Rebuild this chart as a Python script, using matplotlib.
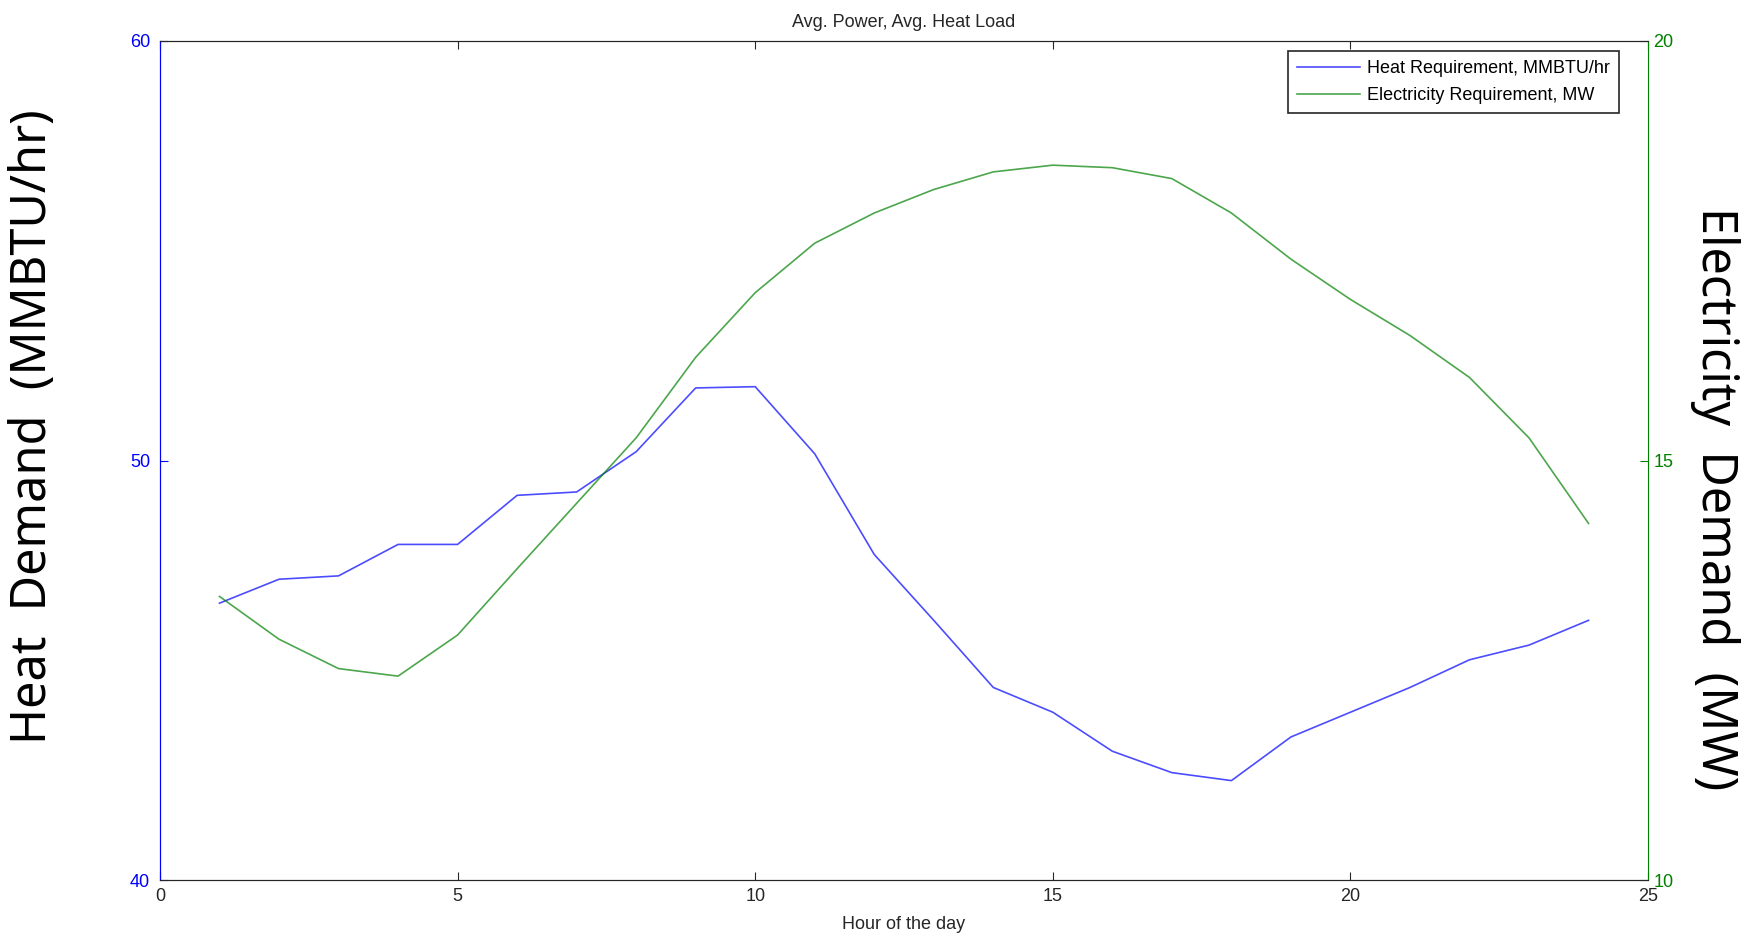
import matplotlib
matplotlib.use("Agg")
import matplotlib.pyplot as plt

hours = list(range(1, 25))
heat = [46.6, 47.17, 47.25, 48.0, 48.0, 49.17, 49.25, 50.21, 51.73, 51.76,
        50.16, 47.76, 46.19, 44.59, 44.0, 43.07, 42.56, 42.37, 43.41, 44.0,
        44.59, 45.25, 45.6, 46.19]
elec = [13.38, 12.87, 12.52, 12.43, 12.92, 13.71, 14.49, 15.27, 16.23, 17.0,
        17.59, 17.95, 18.23, 18.44, 18.52, 18.49, 18.36, 17.95, 17.4, 16.92,
        16.49, 15.99, 15.27, 14.25]

blue = "#0000ff"
green = "#008000"
small = ["Liberation Sans", "DejaVu Sans"]
big = ["Noto Sans", "DejaVu Sans"]

fig = plt.figure(figsize=(17.54, 9.36), dpi=100)
ax = fig.add_axes([0.0912, 0.0598, 0.8484, 0.8964])
ax2 = ax.twinx()

l1, = ax.plot(hours, heat, color=blue, lw=1.2, alpha=0.7)
l2, = ax2.plot(hours, elec, color=green, lw=1.2, alpha=0.7)

ax.set_xlim(0, 25)
ax.set_ylim(40, 60)
ax2.set_ylim(10, 20)
ax.set_xticks([0, 5, 10, 15, 20, 25])
ax.set_yticks([40, 50, 60])
ax2.set_yticks([10, 15, 20])

ax.tick_params(axis="x", direction="in", top=True, length=6, labelsize=13,
               pad=6, colors="#262626")
ax.tick_params(axis="y", direction="in", length=6, labelsize=13, pad=7, colors=blue)
ax2.tick_params(axis="y", direction="in", length=6, labelsize=13, pad=4, colors=green)
for lab in ax.get_xticklabels() + ax.get_yticklabels() + ax2.get_yticklabels():
    lab.set_family(small)

for a in (ax, ax2):
    a.spines["top"].set_color("#262626")
    a.spines["bottom"].set_color("#262626")
ax.spines["left"].set_color(blue)
ax2.spines["left"].set_color(blue)
ax2.spines["right"].set_color(green)
ax.spines["right"].set_visible(False)

ax.set_title("Avg. Power, Avg. Heat Load", fontsize=13, family=small, pad=10, color="#262626")
ax.set_xlabel("Hour of the day", fontsize=13, family=small, labelpad=8, color="#262626")
fig.text(0.019, 0.544, "Heat  Demand  (MMBTU/hr)", rotation=90, fontsize=35,
         family=big, ha="center", va="center")
fig.text(0.978, 0.467, "Electricity  Demand  (MW)", rotation=270, fontsize=35,
         family=big, ha="center", va="center")

leg = ax2.legend([l1, l2], ["Heat Requirement, MMBTU/hr", "Electricity Requirement, MW"],
                 loc="upper right", bbox_to_anchor=(0.9805, 0.988), borderaxespad=0,
                 fancybox=False, edgecolor="#262626",
                 prop={"family": small, "size": 13}, handlelength=3.5,
                 handletextpad=0.4, labelspacing=0.55, borderpad=0.5, framealpha=1)
leg.get_frame().set_linewidth(1.2)

fig.savefig("out.png", dpi=100)
